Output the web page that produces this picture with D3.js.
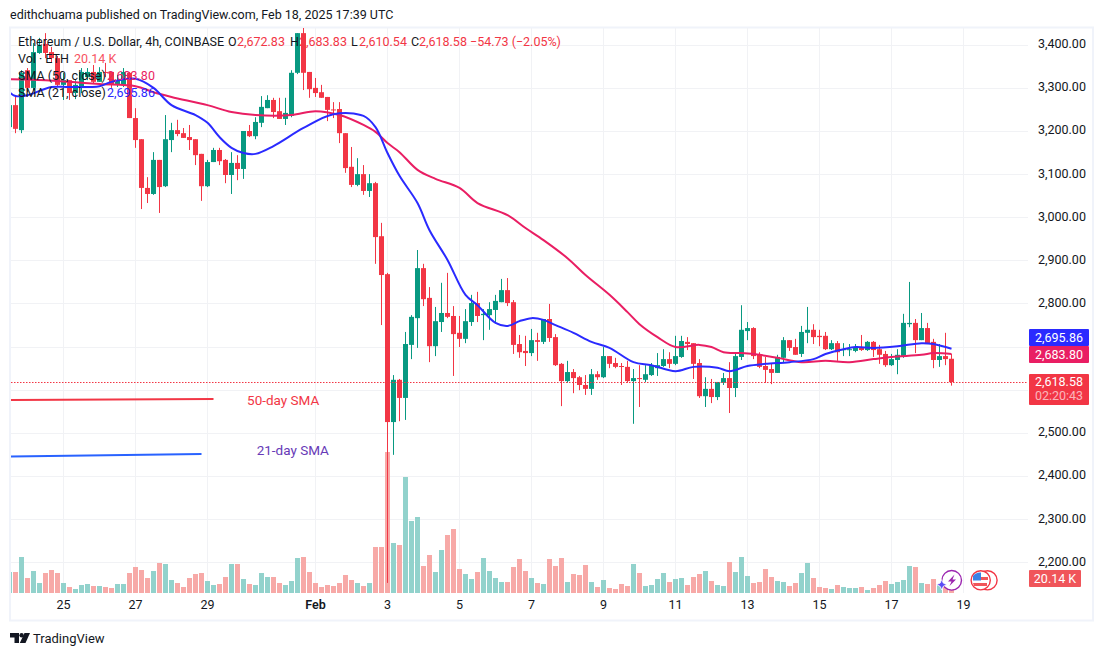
<!DOCTYPE html>
<html><head><meta charset="utf-8">
<script src="https://cdn.jsdelivr.net/npm/d3@7"></script>
<style>html,body{margin:0;padding:0;background:#fff}svg{display:block}text{font-family:Roboto,sans-serif}</style>
</head><body><div id="chart"></div>
<script>
const opens=[3210,3261,3203,3342,3301,3382,3403,3384,3370,3308,3319,3289,3303,3326,3338,3315,3338,3338,3308,3308,3336,3231,3182,3069,3055,3134,3073,3180,3203,3196,3187,3182,3148,3073,3129,3157,3134,3099,3127,3113,3201,3189,3220,3254,3273,3247,3229,3236,3336,3428,3338,3301,3291,3280,3251,3252,3196,3118,3076,3101,3062,3080,2957,2869,2526,2624,2582,2705,2767,2883,2814,2702,2758,2779,2772,2733,2719,2758,2802,2774,2774,2786,2804,2832,2804,2707,2691,2686,2716,2712,2765,2723,2661,2621,2642,2630,2612,2603,2637,2630,2679,2663,2656,2654,2621,2628,2624,2635,2651,2656,2672,2661,2677,2712,2709,2663,2586,2603,2584,2617,2628,2605,2677,2737,2744,2682,2656,2649,2640,2675,2716,2700,2684,2733,2740,2726,2726,2695,2709,2693,2693,2691,2700,2693,2712,2695,2684,2658,2670,2679,2753,2756,2716,2744,2712,2670,2679,2672.83];
const highs=[3266,3280,3342,3347,3405,3417,3428,3396,3375,3336,3319,3319,3347,3347,3354,3349,3359,3338,3331,3347,3338,3254,3182,3094,3152,3134,3238,3220,3227,3208,3215,3182,3148,3134,3162,3162,3136,3152,3145,3201,3215,3233,3282,3284,3278,3278,3278,3342,3428,3440,3338,3324,3308,3280,3268,3268,3196,3164,3138,3122,3101,3083,2988,2872,2635,2626,2735,2774,2925,2893,2839,2793,2849,2872,2795,2772,2788,2821,2828,2788,2804,2821,2858,2860,2809,2728,2726,2742,2733,2765,2800,2730,2663,2668,2649,2633,2635,2649,2644,2700,2679,2675,2663,2668,2649,2658,2658,2663,2686,2695,2688,2726,2726,2723,2709,2672,2630,2626,2619,2640,2665,2684,2797,2758,2746,2688,2677,2663,2682,2723,2716,2719,2749,2793,2753,2740,2735,2716,2714,2709,2707,2707,2728,2714,2714,2705,2691,2684,2695,2777,2851,2765,2779,2756,2719,2707,2733,2683.83];
const lows=[3206,3196,3196,3291,3296,3380,3370,3359,3303,3273,3273,3275,3289,3319,3312,3315,3326,3301,3303,3303,3231,3162,3020,3034,3053,3011,3071,3152,3189,3185,3157,3122,3039,3071,3129,3122,3080,3055,3087,3090,3187,3182,3210,3254,3231,3229,3215,3233,3333,3296,3278,3280,3278,3224,3231,3173,3104,3071,3073,3053,3048,2893,2751,2153,2450,2528,2531,2672,2698,2795,2665,2679,2735,2767,2633,2700,2709,2749,2758,2716,2740,2758,2804,2795,2684,2675,2656,2679,2668,2707,2712,2656,2563,2617,2593,2600,2589,2589,2624,2628,2651,2651,2612,2617,2522,2561,2619,2633,2633,2654,2651,2658,2675,2693,2626,2582,2561,2570,2577,2612,2547,2584,2670,2716,2672,2651,2617,2614,2640,2665,2691,2682,2677,2709,2707,2702,2693,2693,2668,2679,2679,2688,2691,2691,2677,2661,2654,2656,2637,2675,2746,2686,2716,2707,2651,2654,2658,2610.54];
const closes=[3261,3206,3336,3301,3384,3400,3382,3370,3308,3319,3289,3308,3338,3338,3315,3338,3336,3308,3319,3338,3231,3180,3069,3055,3134,3071,3182,3203,3194,3185,3180,3145,3073,3129,3157,3131,3099,3127,3113,3201,3189,3222,3257,3273,3245,3229,3243,3336,3428,3336,3298,3289,3278,3250,3250,3196,3115,3076,3101,3062,3080,2955,2867,2526,2624,2582,2707,2770,2883,2811,2702,2760,2779,2770,2730,2719,2760,2802,2772,2777,2788,2807,2832,2802,2705,2688,2686,2716,2712,2765,2721,2658,2621,2642,2628,2612,2603,2637,2630,2679,2661,2654,2654,2621,2628,2626,2637,2658,2658,2672,2661,2679,2714,2707,2661,2586,2603,2584,2619,2628,2605,2679,2740,2744,2679,2654,2647,2640,2677,2716,2698,2682,2735,2740,2723,2723,2695,2709,2688,2695,2695,2700,2693,2712,2693,2682,2658,2672,2682,2756,2756,2716,2744,2707,2670,2679,2672,2618.58];
const volumes=[105,105,180,75,110,50,100,115,100,50,30,20,40,45,35,35,30,25,45,45,100,130,115,75,110,150,145,65,50,30,75,95,100,60,40,45,80,145,145,70,45,40,100,80,80,50,40,60,175,180,105,50,30,40,35,50,90,65,50,35,50,230,230,705,250,240,580,360,380,135,190,105,215,290,320,120,95,70,105,175,110,75,55,55,130,170,110,75,50,45,170,135,175,55,95,90,140,55,30,65,25,20,45,35,145,100,35,40,70,100,55,70,75,40,80,95,110,60,40,35,155,105,180,85,50,55,120,80,60,55,35,50,100,150,75,30,25,20,40,30,25,25,30,15,25,40,60,45,55,65,135,130,50,45,70,40,30,20.14];
const sma50Bars=[0,4,10,15,21,24,27,33,37,41,47,51,55,59,61,63,65,68,71,75,78,83,86,89,93,96,100,103,105,108,111,115,117,119,122,125,128,132,136,140,144,147,152,154,157];
const sma50Vals=[3321,3320,3315,3310,3305,3291,3280,3261,3245,3238,3238,3247,3238,3215,3199,3173,3152,3111,3090,3069,3034,3006,2976,2948,2906,2867,2821,2781,2753,2723,2700,2705,2700,2688,2686,2682,2675,2665,2668,2665,2672,2677,2682,2686,2683.8];
const sma21Bars=[0,1,3,7,10,15,17,21,24,27,31,33,35,37,39,41,44,49,54,59,61,63,65,68,70,73,76,78,81,83,85,87,89,91,94,97,100,104,107,111,114,118,120,123,126,130,134,136,139,141,144,148,152,154,157];
const sma21Vals=[3291,3282,3284,3303,3303,3305,3315,3322,3301,3261,3238,3220,3187,3162,3150,3148,3166,3208,3240,3236,3210,3150,3097,3034,2971,2902,2821,2797,2756,2749,2760,2767,2763,2751,2733,2712,2698,2665,2658,2644,2654,2652,2644,2656,2661,2665,2672,2684,2695,2700,2698,2702,2709,2707,2695.86];
const priceTicks=[3400,3300,3200,3100,3000,2900,2800,2700,2600,2500,2400,2300,2200];
const dayBars=[9,21,33,51,63,75,87,99,111,123,135,147,159];
const dayLabels=["25","27","29","Feb","3","5","7","9","11","13","15","17","19"];
const note50Bars=[0,34], note50Vals=[2577,2579.5];
const note21Bars=[0,32], note21Vals=[2446,2452];
const lastPrice=2618.58, sma50Last=2683.80, sma21Last=2695.86;

const W=1104,H=656;
const GREEN="#089981",RED="#f23645",VGREEN="#92d2cc",VRED="#f7a9a7",PINK="#e91e63",BLUE="#2a2aff",INK="#131722",GRID="#f1f2f5";
const FONT='Roboto,sans-serif';
const x=d3.scaleLinear().domain([0,157]).range([9.5,951.5]);
const y=d3.scaleLinear().domain([3400,2200]).range([45.2,562.64]);
const yVol=d3.scaleLinear().domain([0,705]).range([593,452]);
const fmt=d3.format(",.2f");
const svg=d3.select("#chart").append("svg").attr("width",W).attr("height",H);
svg.append("rect").attr("width",W).attr("height",H).attr("fill","#fff");
svg.append("rect").attr("x",10).attr("y",27.5).attr("width",1083).attr("height",593).attr("fill","none").attr("stroke","#f0f3fa").attr("stroke-width",2);
svg.append("defs").append("clipPath").attr("id","pane").append("rect").attr("x",11).attr("y",28).attr("width",1017).attr("height",565);
const snap=v=>Math.floor(v)+0.5;

const gridH=svg.append("g");
gridH.selectAll("line").data(priceTicks).join("line").attr("x1",11).attr("x2",1028).attr("y1",d=>snap(y(d))).attr("y2",d=>snap(y(d))).attr("stroke",GRID);
const gridV=svg.append("g");
gridV.selectAll("line").data(dayBars).join("line").attr("x1",d=>snap(x(d))).attr("x2",d=>snap(x(d))).attr("y1",28).attr("y2",593).attr("stroke",GRID);

const pane=svg.append("g").attr("clip-path","url(#pane)");
const idx=d3.range(opens.length);
pane.append("g").selectAll("rect").data(idx).join("rect")
  .attr("x",i=>x(i)-2.5).attr("width",5).attr("y",i=>yVol(volumes[i])).attr("height",i=>593-yVol(volumes[i]))
  .attr("fill",i=>closes[i]>=opens[i]?VGREEN:VRED);
const c=pane.append("g").selectAll("g").data(idx).join("g").attr("fill",i=>closes[i]>=opens[i]?GREEN:RED);
c.append("rect").attr("x",i=>x(i)-0.5).attr("width",1).attr("y",i=>y(highs[i])).attr("height",i=>y(lows[i])-y(highs[i]));
c.append("rect").attr("x",i=>x(i)-2.5).attr("width",5).attr("y",i=>Math.min(y(opens[i]),y(closes[i]))).attr("height",i=>Math.max(1,Math.abs(y(opens[i])-y(closes[i]))));

const line=(b,v)=>d3.line().x((d,i)=>x(b[i])).y(d=>y(d)).curve(d3.curveCatmullRom.alpha(0.5))(v);
pane.append("path").attr("d",line(sma50Bars,sma50Vals)).attr("fill","none").attr("stroke",PINK).attr("stroke-width",2);
pane.append("path").attr("d",line(sma21Bars,sma21Vals)).attr("fill","none").attr("stroke",BLUE).attr("stroke-width",2);
pane.append("line").attr("x1",11).attr("x2",1028).attr("y1",snap(y(lastPrice))).attr("y2",snap(y(lastPrice))).attr("stroke",RED).attr("stroke-dasharray","1.5 1.5").attr("stroke-width",1);

pane.append("path").attr("d",line(note50Bars,note50Vals)).attr("fill","none").attr("stroke","#f23645").attr("stroke-width",2);
pane.append("path").attr("d",line(note21Bars,note21Vals)).attr("fill","none").attr("stroke","#2962ff").attr("stroke-width",2);
svg.append("text").attr("x",x(39.6)).attr("y",y(2577)+4.5).attr("fill","#f23645").attr("font-size",13.5).text("50-day SMA");
svg.append("text").attr("x",x(41.2)).attr("y",y(2461)+4.5).attr("fill","#673ab7").attr("font-size",13.5).text("21-day SMA");

// axes
const axR=svg.append("g").attr("transform","translate(1038,-1.5)").call(d3.axisRight(y).tickValues(priceTicks).tickFormat(fmt).tickSize(0).tickPadding(0));
axR.select(".domain").remove();
axR.selectAll("text").attr("fill",INK).attr("font-size",12.5).attr("font-family",FONT);
const labelOf=new Map(dayBars.map((b,i)=>[b,dayLabels[i]]));
const axB=svg.append("g").attr("transform","translate(-0.5,597)").call(d3.axisBottom(x).tickValues(dayBars).tickFormat(b=>labelOf.get(b)).tickSize(0).tickPadding(3));
axB.select(".domain").remove();
axB.selectAll("text").attr("fill",INK).attr("font-size",12.5).attr("font-family",FONT).attr("font-weight",b=>labelOf.get(b)==="Feb"?600:400);

// price badges
const badge=(yTop,h,col)=>svg.append("rect").attr("x",1029).attr("y",yTop).attr("width",60).attr("height",h).attr("rx",1).attr("fill",col);
badge(329,17,BLUE);badge(346,17,PINK);badge(374,31,RED);
const bt=(ty,t,op)=>svg.append("text").attr("x",1059).attr("y",ty).attr("text-anchor","middle").attr("fill","#fff").attr("fill-opacity",op||1).attr("font-size",12.5).text(t);
bt(341.5,fmt(sma21Last));bt(358.5,fmt(sma50Last));bt(386,fmt(lastPrice));bt(400,"02:20:43",0.65);
svg.append("rect").attr("x",1029).attr("y",570).attr("width",52).attr("height",17).attr("rx",1).attr("fill","#f0555a");
svg.append("text").attr("x",1055).attr("y",582.5).attr("text-anchor","middle").attr("fill","#fff").attr("font-size",12.5).text("20.14 K");

// header + legend
svg.append("text").attr("x",10).attr("y",19).attr("fill",INK).attr("font-size",12.5).text("edithchuama published on TradingView.com, Feb 18, 2025 17:39 UTC");
const lg=svg.append("g").attr("font-size",12.5);
const lt=(px,py,t,col)=>lg.append("text").attr("x",px).attr("y",py).attr("fill",col||INK).text(t);
lt(18,46,"Ethereum / U.S. Dollar, 4h, COINBASE");
lt(228,46,"O");lt(237,46,"2,672.83",RED);lt(290,46,"H");lt(299,46,"2,683.83",RED);lt(351,46,"L");lt(359,46,"2,610.54",RED);lt(411,46,"C");lt(419,46,"2,618.58",RED);lt(470,46,"−54.73 (−2.05%)",RED);
lt(18,63,"Vol · ETH");lt(74,63,"20.14 K","#f7525f");
lt(18,80,"SMA (50, close)");lt(107,80,"2,683.80",PINK);
lt(18,97,"SMA (21, close)");lt(107,97,"2,695.86",BLUE);

// logo
const logo=svg.append("g").attr("transform","translate(10,633)").attr("fill",INK);
logo.append("path").attr("d","M0 0H9V10H4.5V4.5H0Z");
logo.append("circle").attr("cx",11.6).attr("cy",2.2).attr("r",2.2);
logo.append("path").attr("d","M14.5 0H20L15.5 10H9.8Z");
svg.append("text").attr("x",33).attr("y",643).attr("fill",INK).attr("font-size",13).text("TradingView");

// icons
const ic=svg.append("g");
ic.append("circle").attr("cx",951.7).attr("cy",580.3).attr("r",9.8).attr("fill","#fff").attr("stroke","#9c27b0").attr("stroke-width",1.4);
ic.append("path").attr("d","M954.5 574.5L948 581.5H951.5L949.5 586L956 579.5H952.5Z").attr("fill","#9c27b0");
ic.append("path").attr("d","M941.7 579.5L943.3 583.1L946.9 584.7L943.3 586.3L941.7 589.9L940.1 586.3L936.5 584.7L940.1 583.1Z").attr("fill","#5b4cf5").attr("stroke","#fff").attr("stroke-width",0.8);
ic.append("circle").attr("cx",987.5).attr("cy",580.3).attr("r",9.6).attr("fill","#fff").attr("stroke",RED).attr("stroke-width",1.4);
ic.append("circle").attr("cx",980.7).attr("cy",580.3).attr("r",9.6).attr("fill","#fff").attr("stroke",RED).attr("stroke-width",1.4);
ic.append("path").attr("d","M973 577H988V580H973ZM973 583H987V586H974Z").attr("fill","#f0555a");
ic.append("path").attr("d","M973 580.5V576A9 9 0 0 1 981 572.5V580.5Z").attr("fill","#3b82e6");
</script></body></html>
